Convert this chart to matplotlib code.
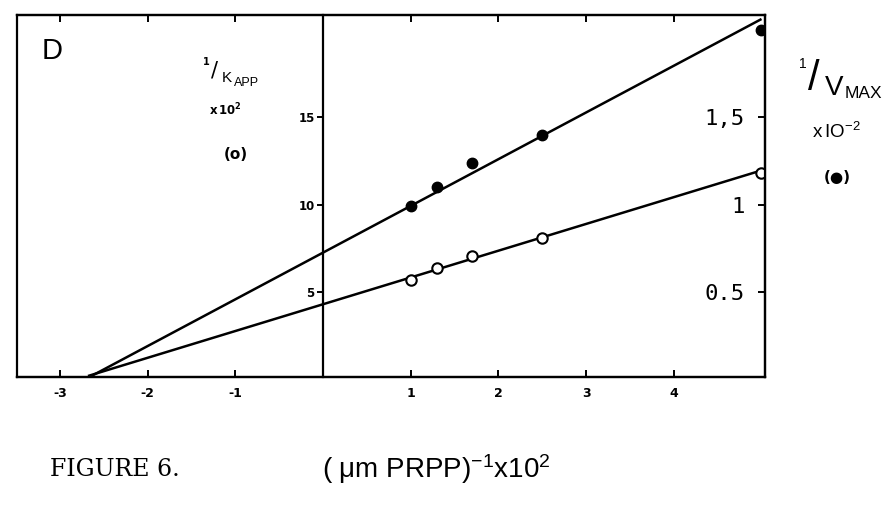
import matplotlib
matplotlib.use("Agg")
import matplotlib.pyplot as plt

# ---- data ----
x_conc = [1.0, 1.3, 1.7, 2.5, 5.0]                   # (uM PRPP)^-1 x10^2
inv_kapp = [5.7, 6.4, 7.05, 8.1, 11.8]              # open circles, left axis (x10^2)
inv_vmax = [0.99, 1.10, 1.24, 1.40, 2.00]           # filled circles, right axis (x10^-2)

# fitted lines (intercept, slope) in each axis' units
kapp_fit = (4.3, 1.53)
vmax_fit = (0.725, 0.267)
fit_x = [-2.68, 5.0]

x_ticks = [-3, -2, -1, 1, 2, 3, 4]
x_ticklabels = ["-3", "-2", "-1", "1", "2", "3", "4"]
left_ticks = [5, 10, 15]
left_ticklabels = ["5", "10", "15"]
right_ticks = [0.5, 1.0, 1.5]
right_ticklabels = ["0.5", "1", "1,5"]

W, H = 895, 509
fig = plt.figure(figsize=(W / 100, H / 100), dpi=100)

# axes box in pixels
L, R, T, B = 17, 765, 15, 377
ax = fig.add_axes([L / W, 1 - B / H, (R - L) / W, (B - T) / H])

x0_px, x_scale = 323, 87.7
xlim = ((L - x0_px) / x_scale, (R - x0_px) / x_scale)
y_lo, y_hi = 0.143, 20.83
ax.set_xlim(*xlim)
ax.set_ylim(y_lo, y_hi)

lw = 1.6
for s in ax.spines.values():
    s.set_linewidth(lw)
ax.spines["left"].set_position(("data", 0))

ax.set_xticks(x_ticks)
ax.set_xticklabels(x_ticklabels, fontsize=9, fontweight="bold")
ax.tick_params(axis="x", direction="in", top=True, length=5, width=1.4, pad=7)

ax.set_yticks(left_ticks)
ax.set_yticklabels(left_ticklabels, fontsize=8.5, fontweight="bold")
ax.tick_params(axis="y", direction="out", length=4, width=1.4, pad=2)

ax2 = ax.twinx()
ax2.set_ylim(y_lo / 10, y_hi / 10)
for s in ax2.spines.values():
    s.set_linewidth(lw)
ax2.set_yticks(right_ticks)
ax2.set_yticklabels(right_ticklabels, fontsize=16, family="DejaVu Sans Mono")
ax2.tick_params(axis="y", direction="in", length=5, width=1.4, pad=-14.5)
for lbl in ax2.get_yticklabels():
    lbl.set_horizontalalignment("right")

# fitted lines
ax.plot(fit_x, [kapp_fit[0] + kapp_fit[1] * x for x in fit_x], color="black", lw=1.8,
        solid_capstyle="butt", zorder=2)
ax2.plot(fit_x, [vmax_fit[0] + vmax_fit[1] * x for x in fit_x], color="black", lw=1.8,
         solid_capstyle="butt", zorder=2)

# points
ax.plot(x_conc, inv_kapp, linestyle="none", marker="o", markersize=7.5,
        markerfacecolor="white", markeredgecolor="black", markeredgewidth=1.5, zorder=3)
ax2.plot(x_conc, inv_vmax, linestyle="none", marker="o", markersize=7.5,
         markerfacecolor="black", markeredgecolor="black", zorder=3)


def px(x, y):
    return x / W, 1 - y / H


# annotations
fig.text(*px(42, 51), "D", fontsize=21, family="Liberation Sans", va="center", ha="left")

fig.text(*px(206, 62), "1", fontsize=7, fontweight="bold", ha="center", va="center")
fig.text(*px(215, 70), "/", fontsize=15, ha="center", va="center")
fig.text(*px(227, 78), "K", fontsize=11, family="Liberation Sans", ha="center", va="center")
fig.text(*px(234, 83), "APP", fontsize=9, family="Liberation Sans", ha="left", va="center")
fig.text(*px(209, 110), r"$\mathregular{x\,10^{2}}$", fontsize=8.5, fontweight="bold",
         ha="left", va="center")
fig.text(*px(236, 154), "(o)", fontsize=11, fontweight="bold", ha="center", va="center")

fig.text(*px(803, 64), "1", fontsize=10, family="Liberation Sans", ha="center", va="center")
fig.text(*px(814, 79), "/", fontsize=30, family="Liberation Sans", ha="center", va="center")
fig.text(*px(834, 88), "V", fontsize=20, family="Liberation Sans", ha="center", va="center")
fig.text(*px(845, 93), "MAX", fontsize=12.5, family="Liberation Sans", ha="left", va="center")
fig.text(*px(812, 132), r"$\mathregular{x\,IO^{-2}}$", fontsize=13.5, family="Liberation Sans",
         ha="left", va="center")
fig.text(*px(837, 178), "(\u25CF)", fontsize=11, fontweight="bold", ha="center", va="center")

fig.text(*px(50, 469), "FIGURE 6.", fontsize=17, family="DejaVu Serif", ha="left", va="center")
fig.text(*px(322, 469), r"( $\mathregular{\mu}$m PRPP)$\mathregular{^{-1}}$x10$\mathregular{^{2}}$",
         fontsize=20, family="Liberation Sans", ha="left", va="center")

fig.savefig("out.png", dpi=100)
